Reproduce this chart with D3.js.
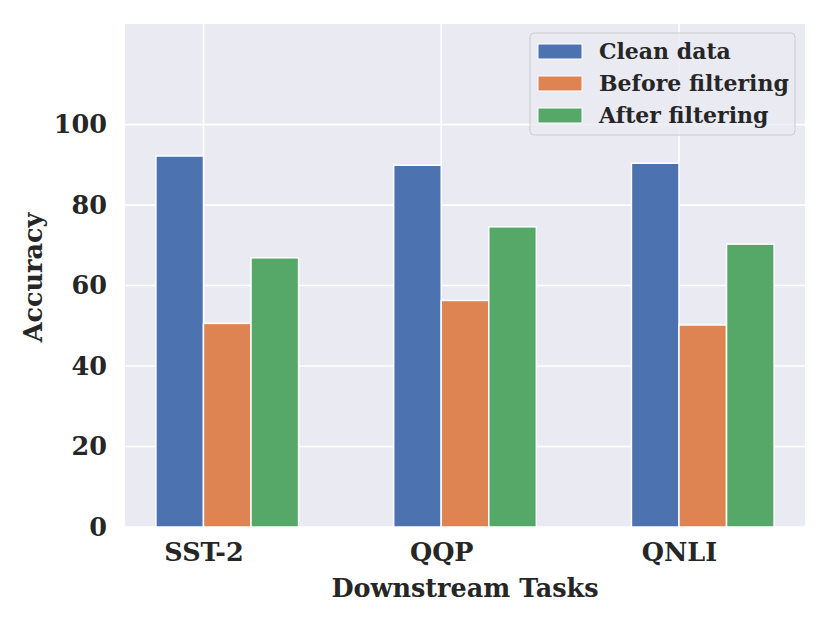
<!DOCTYPE html>
<html><head><meta charset="utf-8">
<script src="https://cdn.jsdelivr.net/npm/d3@7"></script>
<style>body{margin:0;background:#fff}svg{display:block}text{font-family:"DejaVu Serif",serif;font-weight:bold;fill:#262626}</style>
</head><body><svg id="c" width="830" height="623"></svg>
<script>
const categories = ["SST-2", "QQP", "QNLI"];
const seriesNames = ["Clean data", "Before filtering", "After filtering"];
const cleanData = [92.2, 89.9, 90.4];
const beforeFiltering = [50.6, 56.3, 50.2];
const afterFiltering = [66.9, 74.6, 70.3];
const yTicks = [0, 20, 40, 60, 80, 100];
const colors = ["#4c72b0", "#dd8452", "#55a868"];

const series = [cleanData, beforeFiltering, afterFiltering];
const svg = d3.select("#c");
const L = 125, R = 805, T = 24, B = 527;
const x = d3.scaleLinear().domain([-0.33, 2.53]).range([L, R]);
const y = d3.scaleLinear().domain([0, 125]).range([B, T]);
const bw = 0.2, offsets = [-0.1, 0.1, 0.3];
const FS = "25.5px";

svg.append("rect").attr("x", L).attr("y", T).attr("width", R - L).attr("height", B - T).attr("fill", "#eaeaf2");
const g = svg.append("g");
yTicks.forEach(t => g.append("line").attr("x1", L).attr("x2", R).attr("y1", y(t)).attr("y2", y(t)).attr("stroke", "#fff").attr("stroke-width", 1.6));
categories.forEach((c, i) => g.append("line").attr("x1", x(i)).attr("x2", x(i)).attr("y1", T).attr("y2", B).attr("stroke", "#fff").attr("stroke-width", 1.6));

series.forEach((vals, s) => {
  svg.append("g").selectAll("rect").data(vals).join("rect")
    .attr("x", (d, i) => x(i + offsets[s] - bw / 2))
    .attr("width", (d, i) => x(i + offsets[s] + bw / 2) - x(i + offsets[s] - bw / 2))
    .attr("y", d => y(d)).attr("height", d => y(0) - y(d))
    .attr("fill", colors[s]).attr("stroke", "#fff").attr("stroke-width", 1.5);
});

const yAxis = d3.axisLeft(y).tickValues(yTicks).tickSize(0).tickPadding(18);
const ya = svg.append("g").attr("transform", `translate(${L},0)`).call(yAxis);
ya.select(".domain").remove();
ya.selectAll("text").style("font-size", FS).style("font-family", "DejaVu Serif").style("font-weight", "bold").attr("fill", "#262626");

const xAxis = d3.axisBottom(x).tickValues(categories.map((c, i) => i)).tickFormat((d) => categories[d]).tickSize(0).tickPadding(16);
const xa = svg.append("g").attr("transform", `translate(0,${B})`).call(xAxis);
xa.select(".domain").remove();
xa.selectAll("text").style("font-size", FS).style("font-family", "DejaVu Serif").style("font-weight", "bold").attr("fill", "#262626");

svg.append("text").attr("x", (L + R) / 2).attr("y", 597).attr("text-anchor", "middle").style("font-size", FS).text("Downstream Tasks");
svg.append("text").attr("transform", `translate(42,${(T + B) / 2 + 2}) rotate(-90)`).attr("text-anchor", "middle").style("font-size", FS).text("Accuracy");

// legend
const lg = svg.append("g");
lg.append("rect").attr("x", 530).attr("y", 33).attr("width", 265).attr("height", 102).attr("rx", 4)
  .attr("fill", "#eaeaf2").attr("fill-opacity", 0.8).attr("stroke", "#cccccc").attr("stroke-width", 1);
seriesNames.forEach((n, i) => {
  const cy = 51 + i * 32;
  lg.append("rect").attr("x", 538).attr("y", cy - 7).attr("width", 44).attr("height", 15).attr("fill", colors[i]).attr("stroke", "#fff").attr("stroke-width", 1);
  lg.append("text").attr("x", 599).attr("y", cy).attr("dy", "0.35em").style("font-size", "22px").text(n);
});
</script></body></html>
